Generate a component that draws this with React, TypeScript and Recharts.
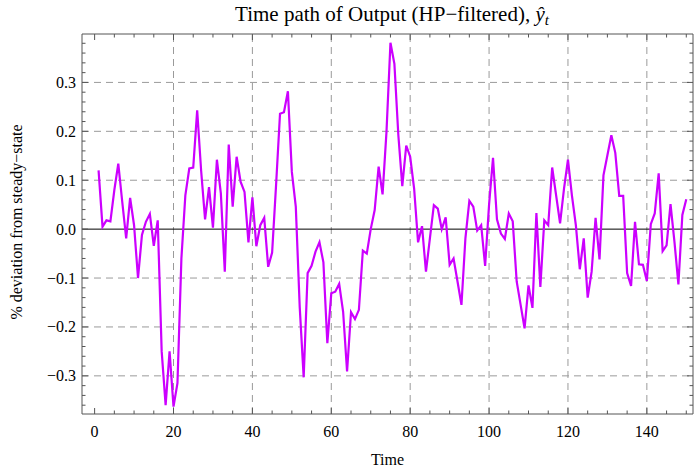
import React from 'react';
import { LineChart, Line, XAxis, YAxis, ReferenceLine } from 'recharts';

// Output deviation (% from steady state), periods 1..150
const outputValues: number[] = [
  0.120, 0.005, 0.018, 0.016, 0.080, 0.134, 0.056, -0.019, 0.064, 0.008,
  -0.100, -0.012, 0.015, 0.031, -0.034, 0.018, -0.250, -0.360, -0.250, -0.363,
  -0.315, -0.060, 0.069, 0.124, 0.126, 0.243, 0.120, 0.020, 0.086, 0.003,
  0.142, 0.073, -0.087, 0.173, 0.046, 0.148, 0.097, 0.076, -0.027, 0.065,
  -0.035, 0.008, 0.023, -0.077, -0.048, 0.090, 0.236, 0.239, 0.282, 0.117,
  0.046, -0.160, -0.303, -0.090, -0.075, -0.046, -0.027, -0.068, -0.233, -0.131,
  -0.128, -0.112, -0.169, -0.291, -0.170, -0.184, -0.165, -0.044, -0.050, 0.000,
  0.039, 0.128, 0.071, 0.200, 0.381, 0.338, 0.192, 0.088, 0.171, 0.148,
  0.083, -0.027, 0.006, -0.087, -0.019, 0.049, 0.042, 0.000, 0.024, -0.073,
  -0.060, -0.107, -0.155, -0.019, 0.058, 0.046, -0.003, 0.008, -0.075, 0.050,
  0.146, 0.020, -0.009, -0.020, 0.032, 0.016, -0.107, -0.155, -0.203, -0.115,
  -0.161, 0.033, -0.118, 0.018, 0.008, 0.126, 0.069, 0.012, 0.083, 0.142,
  0.069, 0.008, -0.082, -0.019, -0.140, -0.087, 0.023, -0.062, 0.110, 0.151,
  0.192, 0.156, 0.068, 0.068, -0.090, -0.116, 0.015, -0.072, -0.073, -0.106,
  0.010, 0.032, 0.114, -0.045, -0.033, 0.051, -0.026, -0.113, 0.029, 0.061,
];

const xTicks: number[] = [0, 5, 10, 15, 20, 25, 30, 35, 40, 45, 50, 55, 60, 65, 70, 75,
  80, 85, 90, 95, 100, 105, 110, 115, 120, 125, 130, 135, 140, 145, 150];
const xGridValues: number[] = [20, 40, 60, 80, 100, 120, 140];
const yTicks: number[] = [-0.36, -0.34, -0.32, -0.3, -0.28, -0.26, -0.24, -0.22, -0.2, -0.18,
  -0.16, -0.14, -0.12, -0.1, -0.08, -0.06, -0.04, -0.02, 0, 0.02, 0.04, 0.06, 0.08, 0.1,
  0.12, 0.14, 0.16, 0.18, 0.2, 0.22, 0.24, 0.26, 0.28, 0.3, 0.32, 0.34, 0.36, 0.38];
const yGridValues: number[] = [-0.3, -0.2, -0.1, 0.1, 0.2, 0.3];

const titleText = 'Time path of Output (HP\u2212filtered), ';
const yLabelText = '% deviation from steady\u2212state';
const xLabelText = 'Time';

const data = outputValues.map((v, i) => ({ t: i + 1, v }));

const FONT = '"Liberation Serif", "Times New Roman", Times, serif';
const FRAME = '#555';
const GRID = '#9a9a9a';
const LINE = '#cc00ff';
const textStyle = { fontFamily: FONT };

const isMajorX = (v: number) => v % 20 === 0;
const isMajorY = (v: number) => Math.abs(Math.round(v * 10) - v * 10) < 1e-6;
const fmtY = (v: number) => {
  const s = (Math.round(v * 10) / 10).toFixed(1);
  return s === '-0.0' ? '0.0' : s.replace('-', '\u2212');
};

const BottomTick = (props: any) => {
  const { x, y, payload } = props;
  const v = payload.value;
  const major = isMajorX(v);
  return (
    <g>
      <line x1={x} y1={y} x2={x} y2={y - (major ? 6 : 3.5)} stroke={FRAME} strokeWidth={1} />
      {major && (
        <text x={x} y={y + 23} textAnchor="middle" style={textStyle} fontSize={16} fill="#000">
          {v}
        </text>
      )}
    </g>
  );
};

const TopTick = (props: any) => {
  const { x, y, payload } = props;
  const major = isMajorX(payload.value);
  return <line x1={x} y1={y} x2={x} y2={y + (major ? 6 : 3.5)} stroke={FRAME} strokeWidth={1} />;
};

const LeftTick = (props: any) => {
  const { x, y, payload } = props;
  const v = payload.value;
  const major = isMajorY(v);
  return (
    <g>
      <line x1={x} y1={y} x2={x + (major ? 6 : 3.5)} y2={y} stroke={FRAME} strokeWidth={1} />
      {major && (
        <text x={x - 6} y={y + 5.5} textAnchor="end" style={textStyle} fontSize={16} fill="#000">
          {fmtY(v)}
        </text>
      )}
    </g>
  );
};

const RightTick = (props: any) => {
  const { x, y, payload } = props;
  const major = isMajorY(payload.value);
  return <line x1={x} y1={y} x2={x - (major ? 6 : 3.5)} y2={y} stroke={FRAME} strokeWidth={1} />;
};

const TitleLabel = () => (
  <text x={392} y={21} textAnchor="middle" style={textStyle} fontSize={21} fill="#000">
    <tspan>{titleText}</tspan>
    <tspan fontStyle="italic">{'\u0177'}</tspan>
    <tspan fontStyle="italic" fontSize={15} dy={4}>t</tspan>
  </text>
);

const XLabel = () => (
  <text x={387.5} y={465} textAnchor="middle" style={textStyle} fontSize={16} fill="#000">
    {xLabelText}
  </text>
);

const YLabel = () => (
  <text
    x={22}
    y={222}
    textAnchor="middle"
    style={textStyle}
    fontSize={16}
    fill="#000"
    transform="rotate(-90, 22, 222)"
  >
    {yLabelText}
  </text>
);

export default function App() {
  return (
    <div
      style={{
        position: 'fixed',
        left: 0,
        top: 0,
        width: 694,
        height: 472,
        background: '#fff',
        fontFamily: FONT,
      }}
    >
      <LineChart
        width={694}
        height={472}
        data={data}
        margin={{ top: 33, right: 0, bottom: 0, left: 0 }}
      >
        <XAxis
          xAxisId="bottom"
          dataKey="t"
          type="number"
          domain={[-3.2, 151.7]}
          allowDataOverflow
          ticks={xTicks}
          interval={0}
          orientation="bottom"
          height={58}
          tickSize={0}
          tickMargin={0}
          tickLine={false}
          axisLine={{ stroke: FRAME, strokeWidth: 1 }}
          tick={<BottomTick />}
          label={{ content: () => <XLabel /> }}
        />
        <XAxis
          xAxisId="top"
          dataKey="t"
          type="number"
          domain={[-3.2, 151.7]}
          allowDataOverflow
          ticks={xTicks}
          interval={0}
          orientation="top"
          height={1}
          tickSize={0}
          tickMargin={0}
          tickLine={false}
          axisLine={{ stroke: FRAME, strokeWidth: 1 }}
          tick={<TopTick />}
          label={{ content: () => <TitleLabel /> }}
        />
        <YAxis
          yAxisId="left"
          type="number"
          domain={[-0.378, 0.399]}
          allowDataOverflow
          ticks={yTicks}
          interval={0}
          orientation="left"
          width={82}
          tickSize={0}
          tickMargin={0}
          tickLine={false}
          axisLine={{ stroke: FRAME, strokeWidth: 1 }}
          tick={<LeftTick />}
          label={{ content: () => <YLabel /> }}
        />
        <YAxis
          yAxisId="right"
          type="number"
          domain={[-0.378, 0.399]}
          allowDataOverflow
          ticks={yTicks}
          interval={0}
          orientation="right"
          width={1}
          tickSize={0}
          tickMargin={0}
          tickLine={false}
          axisLine={{ stroke: FRAME, strokeWidth: 1 }}
          tick={<RightTick />}
        />
        {xGridValues.map((g) => (
          <ReferenceLine
            key={'xg' + g}
            x={g}
            xAxisId="bottom"
            yAxisId="left"
            stroke={GRID}
            strokeWidth={1}
            strokeDasharray="7 5"
          />
        ))}
        {yGridValues.map((g) => (
          <ReferenceLine
            key={'yg' + g}
            y={g}
            xAxisId="bottom"
            yAxisId="left"
            stroke={GRID}
            strokeWidth={1}
            strokeDasharray="7 5"
          />
        ))}
        <ReferenceLine y={0} xAxisId="bottom" yAxisId="left" stroke="#000" strokeWidth={1} />
        <Line
          xAxisId="bottom"
          yAxisId="left"
          type="linear"
          dataKey="v"
          stroke={LINE}
          strokeWidth={2.2}
          dot={false}
          isAnimationActive={false}
        />
      </LineChart>
    </div>
  );
}
